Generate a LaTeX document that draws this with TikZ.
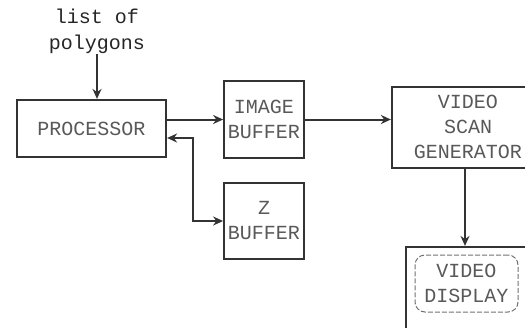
\documentclass[tikz,border=0pt]{standalone}
\usepackage{fontspec}
\newfontfamily\cour{Liberation Mono}
\usetikzlibrary{arrows.meta,calc}
\begin{document}
\begin{tikzpicture}[x=1pt,y=-1pt,
  lbl/.style={align=center,text=black!65,font=\cour\fontsize{20}{25}\selectfont,inner sep=0pt},
  box/.style={draw=black!80,line width=2.2pt,inner sep=0pt,lbl},
  arr/.style={draw=black!80,line width=2pt,-{Stealth[length=10pt,width=9pt]}},
  arrtwo/.style={draw=black!80,line width=2pt,{Stealth[length=10pt,width=9pt]}-{Stealth[length=10pt,width=9pt]}}]
\clip (0,0) rectangle (525,327);
\fill[white] (0,0) rectangle (525,327);
\node[lbl,text=black!85,font=\cour\fontsize{20}{26}\selectfont] (list) at (97,31) {list of\\polygons};
\node[box,minimum width=149pt,minimum height=57pt] (proc) at (91.5,128.5) {PROCESSOR};
\node[box,line width=1.8pt,minimum width=80pt,minimum height=77pt] (img) at (264,119.5) {IMAGE\\BUFFER};
\node[box,line width=1.8pt,minimum width=80pt,minimum height=76pt] (zbuf) at (264,221) {Z\\BUFFER};
\node[box,minimum width=138pt,minimum height=81pt] (scan) at (461,127.5) {};
\node[lbl] (scantext) at (468,127) {VIDEO\\SCAN\\GENERATOR};
\node[box,minimum width=130pt,minimum height=100pt] (disp) at (471,297) {};
\node[box,draw=black!55,line width=1pt,dashed,dash pattern=on 5pt off 2pt,rounded corners=10pt,minimum width=103pt,minimum height=57pt] (screen) at (466.5,283.5) {VIDEO\\DISPLAY};
\coordinate (ya) at (0,138);
\coordinate (xb) at (193,0);
\coordinate (xd) at (465,0);
\draw[arr] (list.south) -- (list.south |- proc.north);
\draw[arr] (proc.east |- img.west) -- (img.west);
\draw[arr] (img.east) -- (img.east -| scan.west);
\draw[arrtwo] (proc.east |- ya) -- (xb |- ya) -- (xb |- zbuf.west) -- (zbuf.west);
\draw[arr] (scan.south -| xd) -- (disp.north -| xd);
\end{tikzpicture}
\end{document}
